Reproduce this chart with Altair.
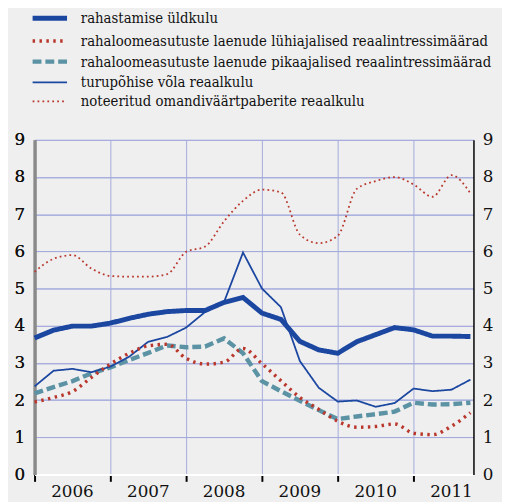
import altair as alt
import pandas as pd

quarters = [f"{y}Q{q}" for y in range(2006, 2012) for q in range(1, 5)]

series_names = [
    "rahastamise üldkulu",
    "rahaloomeasutuste laenude lühiajalised reaalintressimäärad",
    "rahaloomeasutuste laenude pikaajalised reaalintressimäärad",
    "turupõhise võla reaalkulu",
    "noteeritud omandiväärtpaberite reaalkulu",
]

rahastamise = [3.67, 3.88, 3.99, 3.99, 4.07, 4.20, 4.31, 4.38, 4.41, 4.41, 4.63, 4.76,
               4.34, 4.17, 3.58, 3.35, 3.26, 3.57, 3.76, 3.95, 3.89, 3.72, 3.72, 3.71]
luhiajalised = [1.95, 2.07, 2.23, 2.61, 2.97, 3.26, 3.46, 3.50, 3.12, 2.97, 3.02, 3.39,
                2.98, 2.52, 2.07, 1.75, 1.43, 1.27, 1.29, 1.36, 1.11, 1.07, 1.30, 1.66]
pikaajalised = [2.18, 2.35, 2.51, 2.72, 2.88, 3.08, 3.27, 3.47, 3.42, 3.44, 3.66, 3.26,
                2.51, 2.24, 1.98, 1.73, 1.49, 1.56, 1.62, 1.69, 1.93, 1.88, 1.89, 1.93]
turupohise = [2.37, 2.79, 2.84, 2.75, 2.90, 3.17, 3.57, 3.70, 3.95, 4.37, 4.64, 5.97,
              5.00, 4.50, 3.05, 2.33, 1.96, 1.99, 1.82, 1.92, 2.31, 2.24, 2.28, 2.55]
noteeritud = [5.45, 5.80, 5.90, 5.54, 5.34, 5.32, 5.32, 5.39, 5.99, 6.13, 6.81, 7.36,
              7.66, 7.59, 6.45, 6.22, 6.42, 7.68, 7.89, 8.00, 7.80, 7.47, 8.05, 7.56]

years = [2006, 2007, 2008, 2009, 2010, 2011]
year_labels = ["2006", "2007", "2008", "2009", "2010", "2011"]
y_ticks = [0, 1, 2, 3, 4, 5, 6, 7, 8, 9]

colors = ["#1b47a1", "#b9372c", "#5b93a4", "#1b47a1", "#b9372c"]
dashes = [[1, 0], [2.5, 4.5], [9, 4], [1, 0], [1.8, 3.2]]
widths = [5, 3.5, 4.5, 1.8, 1.8]

values_by_series = [rahastamise, luhiajalised, pikaajalised, turupohise, noteeritud]
rows = []
for name, vals in zip(series_names, values_by_series):
    for q, v in zip(quarters, vals):
        t = int(q[:4]) + (int(q[-1]) - 1) / 4
        rows.append({"series": name, "t": t, "value": v})
df = pd.DataFrame(rows)

ydf = pd.DataFrame({"year": [y + 0.5 for y in years], "label": year_labels})

FONT = "DejaVu Serif Condensed, DejaVu Serif"
GRID = "#a3aadc"

xscale = alt.Scale(domain=[2006, 2011.79], nice=False, zero=False)
xaxis = alt.Axis(values=years, grid=True, gridColor=GRID, gridWidth=1, labels=False,
                 ticks=True, tickColor="black", tickSize=7, tickWidth=2,
                 domain=True, domainColor="white", domainWidth=2, title=None)
yscale = alt.Scale(domain=[0, 9], nice=False)

legend = alt.Legend(title=None, orient="none", legendX=-2, legendY=-133,
                    symbolType="M-2.5,0H2.5", symbolSize=196, symbolOffset=8,
                    labelFont=FONT, labelFontSize=15, labelColor="#111", rowPadding=3.5,
                    labelOffset=22, padding=0, labelLimit=600)

enc = dict(
    x=alt.X("t:Q", scale=xscale, axis=xaxis),
    y=alt.Y("value:Q", scale=yscale,
            axis=alt.Axis(values=y_ticks, orient="left", grid=True, gridColor=GRID,
                          gridWidth=1, ticks=False, domain=True, domainColor="#8a8a8a",
                          domainWidth=3, labelFont="DejaVu Serif", labelFontSize=17,
                          labelColor="#111", labelPadding=10, title=None)),
    color=alt.Color("series:N", scale=alt.Scale(domain=series_names, range=colors),
                    legend=legend),
    strokeDash=alt.StrokeDash("series:N",
                              scale=alt.Scale(type="ordinal", domain=series_names, range=dashes),
                              legend=legend),
    strokeWidth=alt.StrokeWidth("series:N",
                                scale=alt.Scale(type="ordinal", domain=series_names, range=widths),
                                legend=legend),
)

base = alt.Chart(df)
lines_lin = base.transform_filter(
    alt.FieldOneOfPredicate(field="series", oneOf=[series_names[2], series_names[3], series_names[0]])
).mark_line(interpolate="linear").encode(**enc)
lines_smooth = base.transform_filter(
    alt.FieldOneOfPredicate(field="series", oneOf=[series_names[1], series_names[4]])
).mark_line(interpolate="monotone").encode(**enc)

right_axis = base.mark_line(opacity=0).encode(
    x=alt.X("t:Q", scale=xscale, axis=xaxis),
    y=alt.Y("value:Q", scale=yscale,
            axis=alt.Axis(values=y_ticks, orient="right", grid=False, ticks=False,
                          domain=True, domainColor="black", domainWidth=1.5,
                          labelFont="DejaVu Serif", labelFontSize=17, labelColor="#111",
                          labelPadding=9, title=None)),
    detail="series:N",
)

year_text = alt.Chart(ydf).mark_text(font="DejaVu Serif", fontSize=17, color="#111",
                                     baseline="top", align="center").encode(
    x=alt.X("year:Q", scale=xscale, axis=xaxis),
    y=alt.value(350),
    text="label:N",
)

chart = alt.layer(lines_lin, lines_smooth, right_axis, year_text).resolve_scale(
    y="shared"
).resolve_axis(y="independent").properties(
    width=446, height=340,
    padding={"left": 27, "top": 130, "right": 29, "bottom": 24},
    autosize=alt.AutoSizeParams(type="none"),
    background="#efefef",
).configure_view(strokeWidth=0)

chart.save("out.html", embed_options={"renderer": "svg", "actions": False})
